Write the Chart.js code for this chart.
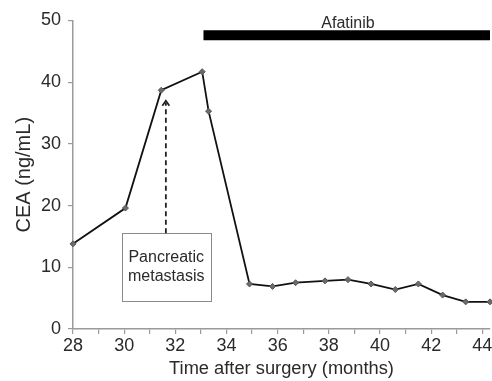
<!DOCTYPE html>
<html>
<head>
<meta charset="utf-8">
<script src="https://cdn.jsdelivr.net/npm/chart.js@4.4.1/dist/chart.umd.min.js"></script>
<style>
  html, body { margin: 0; padding: 0; background: #fff; }
  #wrap { width: 492px; height: 381px; position: relative; }
</style>
</head>
<body>
<div id="wrap"><canvas id="c" width="492" height="381"></canvas></div>
<script>
// ---- data ----
const months = [28, 30.05, 31.45, 33.05, 33.3, 34.9, 35.8, 36.7, 37.85, 38.75, 39.65, 40.6, 41.5, 42.45, 43.35, 44.3];
const cea    = [13.8, 19.6, 38.7, 41.7, 35.3, 7.3, 6.9, 7.5, 7.8, 8.0, 7.3, 6.4, 7.3, 5.5, 4.4, 4.4];

const afatinibSpan  = [33.1, 44.3];   // months
const afatinibLevel = 47.6;           // y value of the treatment bar
const afatinibLabel = 'Afatinib';
const afatinibLabelPos = [38.75, 48.8];

const arrowX = 31.63;                 // month of metastasis arrow
const arrowFromTo = [15.5, 37.0];     // CEA values (from box top to head)
const boxX = [29.91, 33.38];          // annotation box x range (months)
const boxY = [4.55, 15.54];           // annotation box y range (ng/mL)
const boxLines = ['Pancreatic', 'metastasis'];

const xTicks = [28, 30, 32, 34, 36, 38, 40, 42, 44];
const yTicks = [0, 10, 20, 30, 40, 50];

const FONT = '"Liberation Sans", Arial, Helvetica, sans-serif';
const TXT = '#2a2a2a';
const AX = '#9a9a9a';

const annotPlugin = {
  id: 'annot',
  afterDatasetsDraw(chart) {
    const {ctx, scales: {x, y}} = chart;
    ctx.save();
    // Afatinib label
    ctx.fillStyle = TXT;
    ctx.font = '16px ' + FONT;
    ctx.textAlign = 'center';
    ctx.textBaseline = 'alphabetic';
    ctx.fillText(afatinibLabel, x.getPixelForValue(afatinibLabelPos[0]), y.getPixelForValue(afatinibLabelPos[1]));

    // box
    const bl = x.getPixelForValue(boxX[0]), br = x.getPixelForValue(boxX[1]);
    const bt = y.getPixelForValue(boxY[1]), bb = y.getPixelForValue(boxY[0]);
    ctx.fillStyle = '#fff';
    ctx.fillRect(bl, bt, br - bl, bb - bt);
    ctx.strokeStyle = '#8a8a8a';
    ctx.lineWidth = 1;
    ctx.strokeRect(Math.round(bl) + 0.5, Math.round(bt) + 0.5, Math.round(br - bl), Math.round(bb - bt));
    ctx.fillStyle = TXT;
    ctx.font = '16px ' + FONT;
    ctx.textBaseline = 'middle';
    const cx = (bl + br) / 2, cy = (bt + bb) / 2;
    ctx.fillText(boxLines[0], cx, cy - 9.5);
    ctx.fillText(boxLines[1], cx, cy + 9.5);

    // dashed arrow
    const ax = x.getPixelForValue(arrowX);
    const ay0 = y.getPixelForValue(arrowFromTo[0]);
    const ay1 = y.getPixelForValue(arrowFromTo[1]);
    ctx.strokeStyle = '#222';
    ctx.lineWidth = 1.8;
    ctx.setLineDash([5, 3.5]);
    ctx.beginPath();
    ctx.moveTo(ax, ay0);
    ctx.lineTo(ax, ay1 + 2);
    ctx.stroke();
    ctx.setLineDash([]);
    ctx.beginPath();
    ctx.moveTo(ax - 3.5, ay1 + 5);
    ctx.lineTo(ax, ay1);
    ctx.lineTo(ax + 3.5, ay1 + 5);
    ctx.stroke();
    ctx.restore();
  }
};

new Chart(document.getElementById('c'), {
  type: 'scatter',
  data: {
    datasets: [
      {
        label: 'Afatinib',
        data: afatinibSpan.map(m => ({x: m, y: afatinibLevel})),
        showLine: true,
        borderColor: '#000',
        borderWidth: 10,
        borderCapStyle: 'butt',
        pointRadius: 0,
        clip: false
      },
      {
        label: 'CEA',
        data: months.map((m, i) => ({x: m, y: cea[i]})),
        showLine: true,
        borderColor: '#111',
        borderWidth: 1.8,
        tension: 0,
        pointStyle: 'rectRot',
        pointRadius: 3,
        pointBackgroundColor: '#6a6a6a',
        pointBorderColor: '#555',
        pointBorderWidth: 1,
        clip: false
      }
    ]
  },
  options: {
    responsive: false,
    animation: false,
    events: [],
    layout: { autoPadding: false, padding: { top: 20.5, right: 2, left: 0, bottom: 0 } },
    plugins: { legend: { display: false }, tooltip: { enabled: false } },
    scales: {
      x: {
        type: 'linear',
        min: 28, max: 44.3,
        afterFit(s) { s.height = 52; s.paddingRight = 0; s.paddingLeft = 0; },
        border: { display: true, color: AX, width: 1.5 },
        grid: { drawOnChartArea: false, drawTicks: true, tickLength: 5, color: AX, lineWidth: 1.2 },
        ticks: {
          stepSize: 1, includeBounds: false, autoSkip: false, maxRotation: 0,
          padding: 1,
          color: TXT, font: { family: FONT, size: 18 },
          callback: v => xTicks.includes(v) ? String(v) : ''
        },
        title: { display: true, text: 'Time after surgery (months)', color: TXT, font: { family: FONT, size: 18.3 }, padding: { top: 0, bottom: 1 } }
      },
      y: {
        min: 0, max: 50,
        afterFit(s) { s.width = 73; },
        border: { display: true, color: AX, width: 1.5 },
        grid: { drawOnChartArea: false, drawTicks: true, tickLength: 5, color: AX, lineWidth: 1.2 },
        ticks: {
          stepSize: 10, padding: 7,
          color: TXT, font: { family: FONT, size: 18 },
          callback: v => yTicks.includes(v) ? String(v) : ''
        },
        title: { display: true, text: 'CEA (ng/mL)', color: TXT, font: { family: FONT, size: 20 }, padding: { top: 12, bottom: 0 } }
      }
    }
  },
  plugins: [annotPlugin]
});
</script>
</body>
</html>
